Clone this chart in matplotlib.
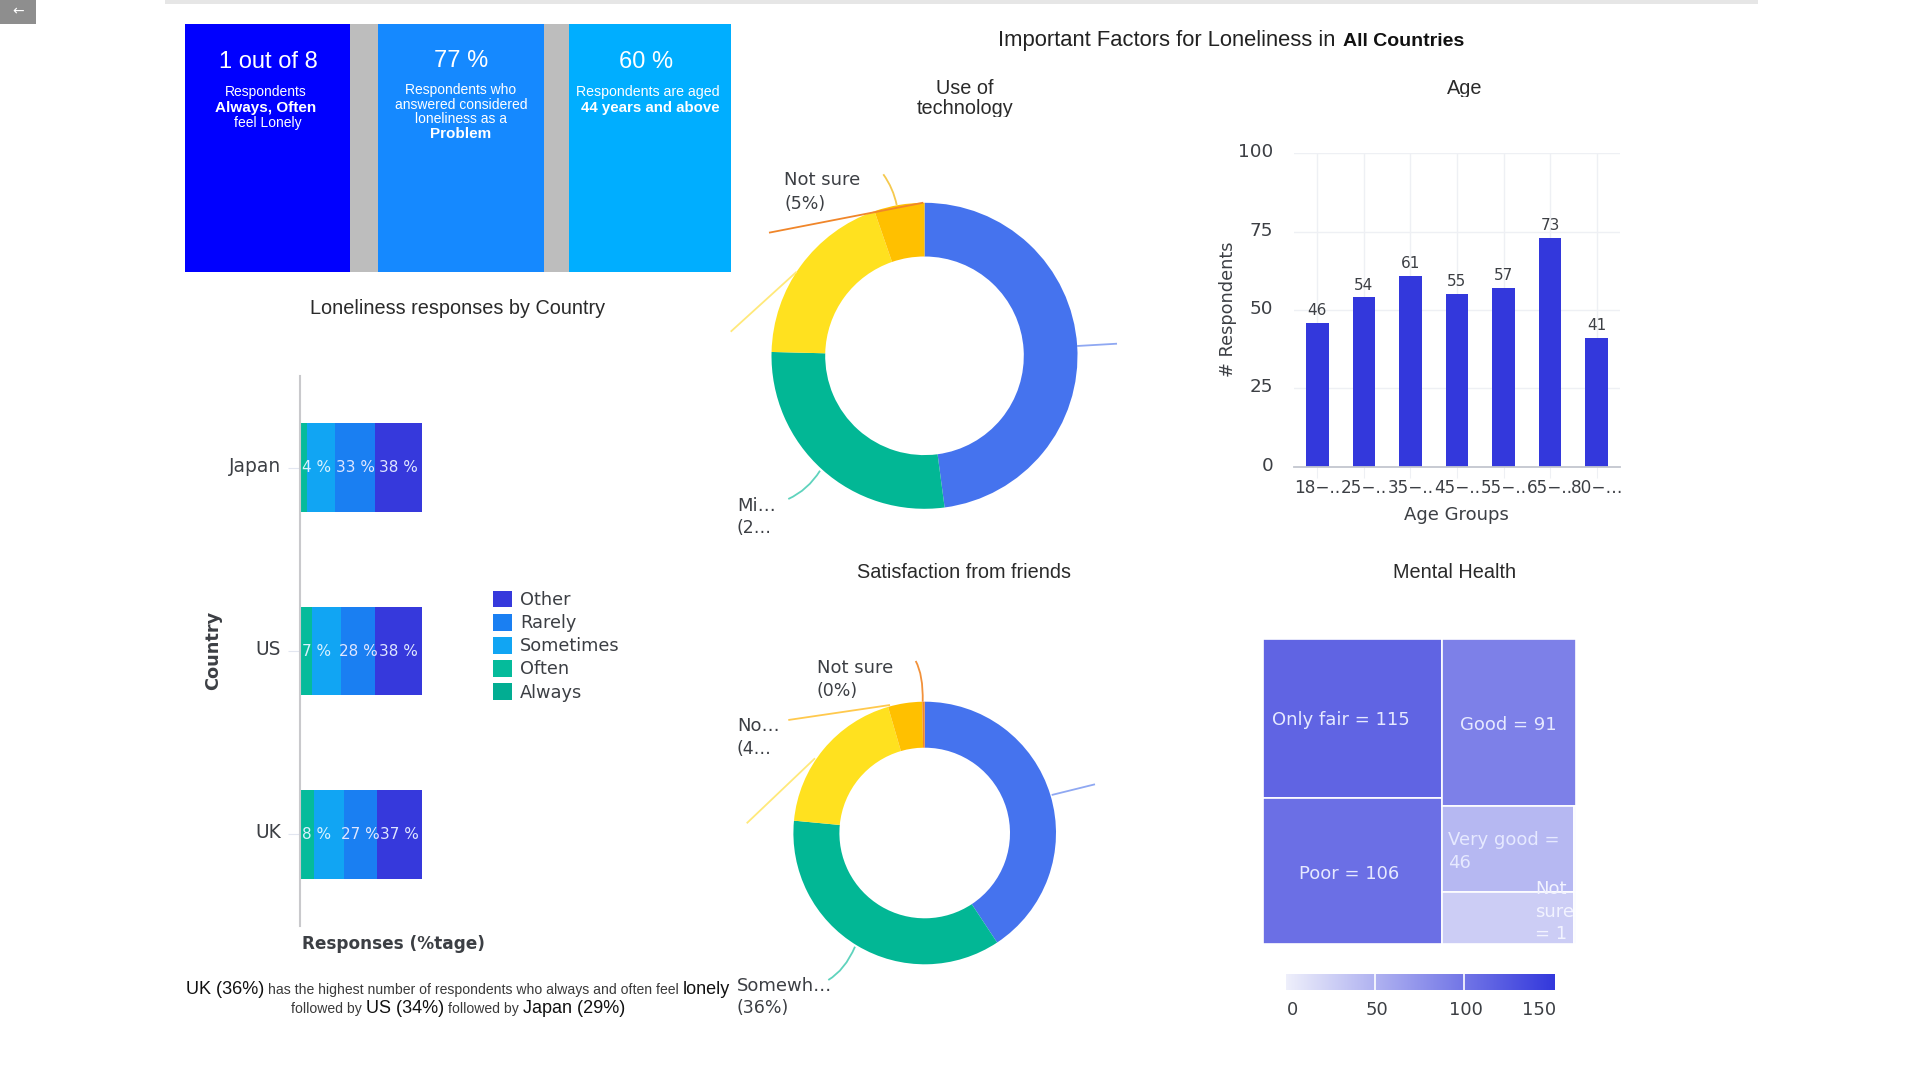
"""Loneliness dashboard: KPI panels, stacked bars, two donuts, age bars and a treemap."""

import matplotlib
matplotlib.use("Agg")
import matplotlib.pyplot as plt
import numpy as np
from matplotlib.colors import LinearSegmentedColormap, Normalize
from matplotlib.patches import PathPatch, Rectangle
from matplotlib.path import Path
from matplotlib.transforms import ScaledTranslation

W, H = 1920, 1080
ARIAL = "Liberation Sans"

countries = ["Japan", "US", "UK"]
always_pct = [1, 1, 1]
often_pct = [5, 9, 11]
sometimes_pct = [23, 24, 24]
rarely_pct = [33, 28, 27]
other_pct = [38, 38, 37]
cut_labels = ["4 %", "7 %", "8 %"]

tech_values = [47.9, 27.5, 19.3, 5.3]
friends_values = [40.7, 35.8, 19, 4.2, 0.3]

age_groups = ["18−..", "25−..", "35−..", "45−..", "55−..", "65−..", "80−…"]
age_counts = [46, 54, 61, 55, 57, 73, 41]

health_only_fair = 115
health_poor = 106
health_good = 91
health_very_good = 46
health_unlabelled = 28
health_not_sure = 1

BLUE, TEAL, YELLOW, AMBER, ORANGE = "#4573ee", "#02b795", "#ffe11f", "#ffc000", "#f0862a"
INK = "#3c3f44"

fig = plt.figure(figsize=(W / 100, H / 100), dpi=100, facecolor="white")


def axes_px(x0, y0, x1, y1, **kw):
    return fig.add_axes([x0 / W, 1 - y1 / H, (x1 - x0) / W, (y1 - y0) / H], **kw)


# full-figure layer in pixels, for panels, texts and leader lines
ov = axes_px(0, 0, W, H, zorder=5)
ov.set_xlim(0, W); ov.set_ylim(H, 0)
ov.axis("off")


def txt(x, y, s, size=12.5, color=INK, ha="center", family=None, weight="normal", clip=None, **kw):
    t = ov.text(x, y, s, fontsize=size, color=color, ha=ha, va="center", weight=weight,
                family=family or "DejaVu Sans", **kw)
    if clip:
        t.set_clip_path(Rectangle((clip[0], clip[1]), clip[2] - clip[0], clip[3] - clip[1],
                                  transform=ov.transData))
        t.set_clip_on(True)
    return t


def runs(x, y, parts, gap=4):
    # consecutive pieces of text of different sizes on one baseline
    rend = fig.canvas.get_renderer()
    for s, size, weight, color in parts:
        t = ov.text(x, y, s, fontsize=size, weight=weight, color=color, family=ARIAL,
                    ha="left", va="baseline")
        x += t.get_window_extent(rend).width + gap


def leader(pts, color, lw=1.3):
    codes = [Path.MOVETO, Path.LINETO] if len(pts) == 2 else [Path.MOVETO, Path.CURVE3, Path.CURVE3]
    ov.add_patch(PathPatch(Path(pts, codes), fc="none", ec=color, lw=lw))


def raise_ticklabels(a, px):
    # tick labels in the reference sit a little above their ticks
    shift = ScaledTranslation(0, px / 100, fig.dpi_scale_trans)
    for lab in a.get_yticklabels():
        lab.set_transform(lab.get_transform() + shift)


# page furniture
ov.add_patch(Rectangle((165, 0), 1593, 4, fc="#e6e6e6", ec="none"))
ov.add_patch(Rectangle((0, 0), 36, 24, fc="#8e8e8e", ec="none"))
txt(18, 11, "←", size=10, color="white")

# KPI panels
for x0, x1, c in [(185, 350, "#0000ff"), (350, 378, "#bdbdbd"), (378, 544, "#1589ff"),
                  (544, 569, "#bdbdbd"), (569, 731, "#00aeff")]:
    ov.add_patch(Rectangle((x0, 24), x1 - x0, 248, fc=c, ec="none"))

kw = dict(color="white", family=ARIAL)
txt(268, 62, "1 out of 8", size=17, **kw)
txt(266, 92, "Respondents", size=10, **kw)
txt(266, 108, "Always, Often", size=11, weight="bold", **kw)
txt(268, 123, "feel Lonely", size=10, **kw)
txt(461, 61, "77 %", size=17, **kw)
txt(461, 90, "Respondents who", size=10, **kw)
txt(461, 105, "answered considered", size=10, **kw)
txt(461, 119, "loneliness as a", size=10, **kw)
txt(461, 134, "Problem", size=11, weight="bold", **kw)
txt(646, 62, "60 %", size=17, **kw)
txt(648, 92, "Respondents are aged", size=10.2, **kw)
txt(650, 108, "44 years and above", size=10.8, weight="bold", **kw)

# titles
runs(998, 46, [("Important Factors for Loneliness in", 15.8, "normal", "#222222"),
               ("All Countries", 14, "bold", "#111111")], gap=8)
kw = dict(size=14.3, color="#2a2a2a", family=ARIAL)
txt(458, 308, "Loneliness responses by Country", **kw)
txt(965, 88, "Use of", **kw)
txt(965, 108, "technology", clip=(900, 90, 1030, 117), **kw)
txt(1465, 88, "Age", clip=(1440, 70, 1490, 97), **kw)
txt(964, 573, "Satisfaction from friends", **kw)
txt(1455, 573, "Mental Health", **kw)

# stacked bars by country
ax = axes_px(299.8, 376, 421.6, 926)
left = np.zeros(3)
handles = {}
for name, vals, c in [("Always", always_pct, "#02ad92"), ("Often", often_pct, "#05bb9b"),
                      ("Sometimes", sometimes_pct, "#11a5f3"), ("Rarely", rarely_pct, "#1a7ff2"),
                      ("Other", other_pct, "#3639dc")]:
    handles[name] = ax.barh(countries, vals, left=left, height=0.482, color=c, linewidth=0)
    if name in ("Rarely", "Other"):
        ax.bar_label(handles[name], labels=[f"{v} %" for v in vals], label_type="center",
                     color="#dfe6ff", fontsize=11)
    left += np.array(vals)
for i, s in enumerate(cut_labels):
    ax.text(1.5, i, s, color="#d8f2ff", fontsize=11, va="center", ha="left")
ax.set_xlim(0, 100); ax.set_ylim(2.5, -0.5)
for side in ("top", "right", "bottom"):
    ax.spines[side].set_visible(False)
ax.spines["left"].set_color("#c9c9cc"); ax.spines["left"].set_linewidth(1.5)
ax.set_xticks([])
ax.tick_params(axis="y", length=8.5, color="#e2e6f0", pad=5, labelsize=13.4, labelcolor=INK)
raise_ticklabels(ax, 3.5)
ax.patch.set_alpha(0)
ax.legend(handles=[handles[n] for n in ("Other", "Rarely", "Sometimes", "Often", "Always")],
          labels=["Other", "Rarely", "Sometimes", "Often", "Always"],
          loc="upper left", bbox_to_anchor=(492.6, 590.5), bbox_transform=ov.transData,
          frameon=False, fontsize=12.8, handlelength=1.09, handleheight=1.09,
          labelspacing=0.26, handletextpad=0.44, borderpad=0, borderaxespad=0, labelcolor=INK)
txt(213, 650, "Country", size=12.8, weight="bold", rotation=90)
txt(393, 944, "Responses (%tage)", size=12.2, weight="bold")

small, big = 10.1, 13
grey, dark = "#3a3a3a", "#111111"
runs(186, 994, [("UK (36%)", big, "normal", dark),
                ("has the highest number of respondents who always and often feel", small, "normal", grey),
                ("lonely", big, "normal", dark)])
runs(291, 1013, [("followed by", small, "normal", grey), ("US (34%)", big, "normal", dark),
                 ("followed by", small, "normal", grey), ("Japan (29%)", big, "normal", dark)])


def donut(values, colors, cx, cy, r_out, r_in):
    a = axes_px(cx - r_out, cy - r_out, cx + r_out, cy + r_out)
    a.pie(values, colors=colors, startangle=90, counterclock=False, radius=1,
          wedgeprops=dict(width=1 - r_in / r_out, linewidth=0))
    a.set_xlim(-1, 1); a.set_ylim(-1, 1)
    return a


# use of technology
donut(tech_values, [BLUE, TEAL, YELLOW, AMBER], 924.5, 355.8, 153, 99.3)
leader([(1077, 346), (1117, 343.7)], "#8fa8f2")
leader([(896.7, 205), (893.3, 188.3), (883.3, 174.3)], "#f5c94e")
leader([(923.3, 202.7), (769, 232.7)], ORANGE)
leader([(796.7, 271.7), (730.7, 331.7)], "#ffe97a")
leader([(820, 470.7), (808, 490), (788.3, 499)], "#5fd3bd")
txt(784, 180, "Not sure", size=13, ha="left")
txt(784, 204, "(5%)", size=12.5, ha="left")
txt(737, 506, "Mi…", size=13, ha="left")
txt(737, 528, "(2…", size=12.5, ha="left")

# satisfaction from friends
donut(friends_values, [BLUE, TEAL, YELLOW, AMBER, ORANGE], 924.7, 833, 131.3, 85.3)
leader([(1051.7, 795), (1095, 784.3)], "#8fa8f2")
leader([(922.7, 701.7), (923.3, 675), (915.7, 661)], "#f2913a")
leader([(890, 705), (788.3, 720)], "#ffc94d")
leader([(815, 758.3), (746.7, 823.3)], "#ffe97a")
leader([(855, 946.7), (845, 970), (828.3, 980)], "#5fd3bd")
txt(817, 668, "Not sure", size=13, ha="left")
txt(817, 691, "(0%)", size=12.5, ha="left")
txt(737, 726, "No…", size=13, ha="left")
txt(737, 749, "(4…", size=12.5, ha="left")
txt(737, 986, "Somewh…", size=13, ha="left")
txt(737, 1008, "(36%)", size=12.5, ha="left")

# age bars
ax = axes_px(1294, 153.3, 1620, 466.7)
bars = ax.bar(age_groups, age_counts, width=0.485, color="#3338dc", linewidth=0)
ax.bar_label(bars, padding=3.5, fontsize=11, color=INK)
ax.set_xlim(-0.5, 6.5); ax.set_ylim(0, 100)
ax.set_yticks([0, 25, 50, 75, 100])
ax.grid(True, color="#eef0f4", lw=1)
ax.set_axisbelow(True)
for side in ("top", "right", "left"):
    ax.spines[side].set_visible(False)
ax.spines["bottom"].set_color("#c3c6cf"); ax.spines["bottom"].set_linewidth(1.3)
ax.tick_params(axis="y", length=0, pad=15, labelsize=13.2, labelcolor=INK)
ax.tick_params(axis="x", length=8, color="#eef0f4", pad=0.5, labelsize=12.2, labelcolor=INK)
raise_ticklabels(ax, 3)
txt(1228, 309, "# Respondents", size=12.8, rotation=90)
txt(1456, 515, "Age Groups", size=13)

# mental health treemap, split into columns from the counts
cmap = LinearSegmentedColormap.from_list("health", ["#eeeffb", "#3338dc"])
norm = Normalize(0, 151)
ax = axes_px(1263, 639, 1576, 944.3)
ax.set_xlim(0, 1); ax.set_ylim(1, 0)
ax.axis("off")


def cell(x, y, w, h, value):
    ax.add_patch(Rectangle((x, y), w, h, fc=cmap(norm(value)), ec="white", lw=1.2))


total = health_only_fair + health_poor + health_good + health_very_good + health_unlabelled + health_not_sure
left_w = (health_only_fair + health_poor) / total
left_split = health_only_fair / (health_only_fair + health_poor)
cell(0, 0, left_w, left_split, health_only_fair)
cell(0, left_split, left_w, 1 - left_split, health_poor)
right_w = 1 - left_w
rest = health_very_good + health_unlabelled + health_not_sure
good_h = health_good / (health_good + rest)
cell(left_w, 0, right_w, good_h, health_good)
mid_w = right_w * (health_very_good + health_unlabelled) / rest
mid_split = health_very_good / (health_very_good + health_unlabelled)
mid_h = 1 - good_h
cell(left_w, good_h, mid_w, mid_h * mid_split, health_very_good)
cell(left_w, good_h + mid_h * mid_split, mid_w, mid_h * (1 - mid_split), health_unlabelled)
cell(left_w + mid_w, good_h, right_w - mid_w, mid_h, health_not_sure)

pale = "#e6e9ff"
txt(1341, 720, f"Only fair = {health_only_fair}", size=13, color=pale)
txt(1508, 725, f"Good = {health_good}", size=13, color=pale)
txt(1349, 874, f"Poor = {health_poor}", size=13, color=pale)
txt(1448, 840, "Very good =", size=13, color=pale, ha="left")
txt(1448, 863, f"{health_very_good}", size=13, color=pale, ha="left")
txt(1535, 889, "Not", size=13, color="#f2f3ff", ha="left")
txt(1535, 912, "sure", size=13, color="#f2f3ff", ha="left", clip=(1530, 898, 1573, 923))
txt(1535, 934, f"= {health_not_sure}", size=13, color="#f2f3ff", ha="left")

# colour scale
ax = axes_px(1286, 974, 1555, 990)
ax.imshow(np.linspace(0, 151, 256)[None, :], cmap=cmap, norm=norm, aspect="auto",
          extent=(0, 151, 0, 1))
for v in (50, 100):
    ax.axvline(v, color="white", lw=1.2)
ax.axis("off")
for x, s in [(1292, "0"), (1377, "50"), (1466, "100"), (1539, "150")]:
    txt(x, 1010, s, size=13)

fig.savefig("out.png", dpi=100)
